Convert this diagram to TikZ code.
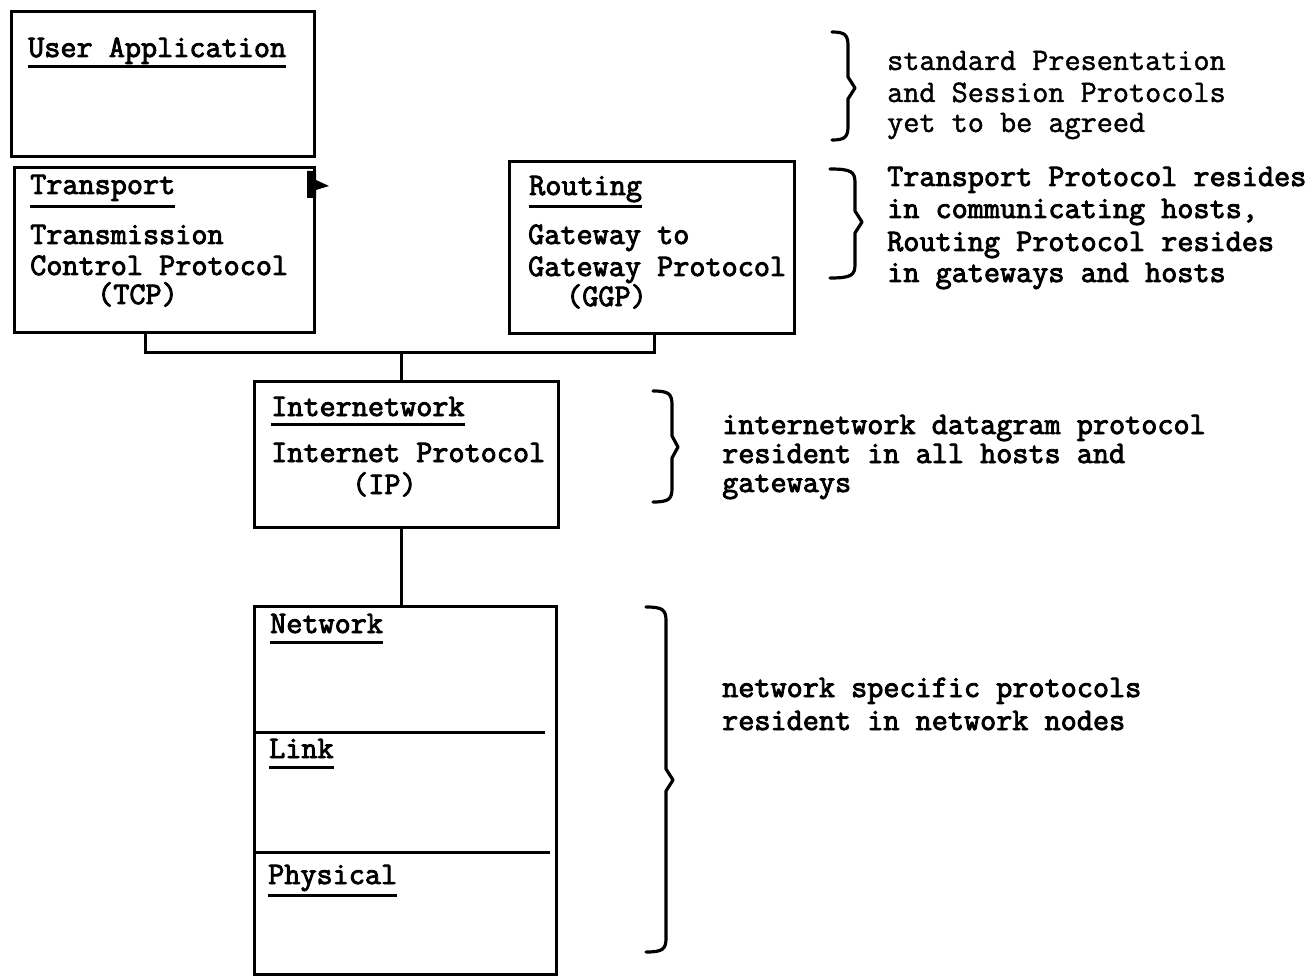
\documentclass[tikz,border=0pt]{standalone}
\usepackage{fontspec}
\newfontfamily\typeheavy[FakeBold=2.8]{Latin Modern Mono}
\newfontfamily\typelight[FakeBold=1.4]{Latin Modern Mono}
% right-hand curly bracket: hook x, stem x, tip x, top y, tip y, bottom y
\newcommand\sidebrace[6]{%
  \draw[brace] (#1,#4) .. controls (#2-3,#4) and (#2,#4+3) .. (#2,#4+14)
    -- (#2,#5-11) -- (#3,#5) -- (#2,#5+11) -- (#2,#6-14)
    .. controls (#2,#6-3) and (#2-3,#6) .. (#1,#6);}
\begin{document}
\begin{tikzpicture}[x=1pt,y=-1pt,
  box/.style={draw, line width=3.2pt, inner sep=0pt, anchor=north west},
  wire/.style={line width=3pt},
  lbl/.style={anchor=base west, inner sep=0pt, font=\fontsize{31.3}{32}\typeheavy},
  lite/.style={lbl, font=\fontsize{31.3}{32}\typelight},
  uline/.style={line width=3pt},
  brace/.style={line width=3.2pt, line cap=round, line join=round},
]
\useasboundingbox (0,0) rectangle (1309,976);

% protocol layer boxes
\node[box, minimum width=303pt, minimum height=145pt] (app) at (10,10) {};
\node[box, minimum width=300pt, minimum height=165pt] (tcp) at (13,166) {};
\node[box, minimum width=285pt, minimum height=172pt] (ggp) at (508,160) {};
\node[box, minimum width=304pt, minimum height=146pt] (ip)  at (253,380) {};
\node[box, minimum width=302pt, minimum height=368pt] (net) at (253,605) {};

% layer dividers inside the network stack
\draw[wire] (net.west |- 0,732) -- (545,732);
\draw[wire] (net.west |- 0,852) -- (550,852);

% pointer mark on the transport box
\fill (307,171) -- (316,171) -- (316,180) -- (329,186) -- (316,190) -- (316,198) -- (307,198) -- cycle;

% connectors between layers
\coordinate (busL) at (145,352);
\coordinate (busR) at (654,352);
\coordinate (busM) at (401,352);
\draw[wire] (tcp.south -| busL) -- (busL) -- (busR) -- (ggp.south -| busR);
\draw[wire] (busM) -- (ip.north -| busM);
\draw[wire] (ip.south -| busM) -- (net.north -| busM);

% box titles with underlines
\node[lbl] (tApp) at (28,57) {User Application};
\draw[uline] ([yshift=-10pt]tApp.base west) -- ([yshift=-10pt]tApp.base east);
\node[lbl] (tTcp) at (30,194) {Transport};
\draw[uline] ([yshift=-13pt]tTcp.base west) -- ([yshift=-13pt]tTcp.base east);
\node[lbl] (tGgp) at (529,195) {Routing};
\draw[uline] ([yshift=-12pt]tGgp.base west) -- ([yshift=-12pt]tGgp.base east);
\node[lbl] (tIp) at (271,416) {Internetwork};
\draw[uline] ([yshift=-8pt]tIp.base west) -- ([yshift=-8pt]tIp.base east);
\node[lbl] (tNet) at (270,633) {Network};
\draw[uline] ([yshift=-9pt]tNet.base west) -- ([yshift=-9pt]tNet.base east);
\node[lbl] (tLink) at (269,758) {Link};
\draw[uline] ([yshift=-9pt]tLink.base west) -- ([yshift=-9pt]tLink.base east);
\node[lbl] (tPhy) at (268,884) {Physical};
\draw[uline] ([yshift=-11pt]tPhy.base west) -- ([yshift=-11pt]tPhy.base east);

% box contents
\node[lbl] (tcp1) at (30,244) {Transmission};
\node[lbl] (tcp2) at (30,275) {Control Protocol};
\node[lbl] (tcp3) at (97,304) {(TCP)};
\node[lbl] (ggp1) at (528,244) {Gateway to};
\node[lbl] (ggp2) at (528,276) {Gateway Protocol};
\node[lbl] (ggp3) at (566,306) {(GGP)};
\node[lbl] (ip1) at (271,462) {Internet Protocol};
\node[lbl] (ip2) at (352,494) {(IP)};

% brackets and remarks
\sidebrace{832}{848}{855}{32}{88}{140}
\sidebrace{830}{855}{862}{169}{222}{278}
\sidebrace{653}{672}{678}{391}{447}{502}
\sidebrace{646}{666}{673}{607}{780}{952}

\node[lite] (n11) at (887,70)  {standard Presentation};
\node[lite] (n12) at (887,102) {and Session Protocols};
\node[lite] (n13) at (887,132) {yet to be agreed};

\node[lbl] (n21) at (887,186) {Transport Protocol resides};
\node[lbl] (n22) at (887,218) {in communicating hosts,};
\node[lbl] (n23) at (887,251) {Routing Protocol resides};
\node[lbl] (n24) at (887,282) {in gateways and hosts};

\node[lbl] (n31) at (722,434) {internetwork datagram protocol};
\node[lbl] (n32) at (722,463) {resident in all hosts and};
\node[lbl] (n33) at (722,492) {gateways};

\node[lbl] (n41) at (722,697) {network specific protocols};
\node[lbl] (n42) at (722,730) {resident in network nodes};
\end{tikzpicture}
\end{document}
